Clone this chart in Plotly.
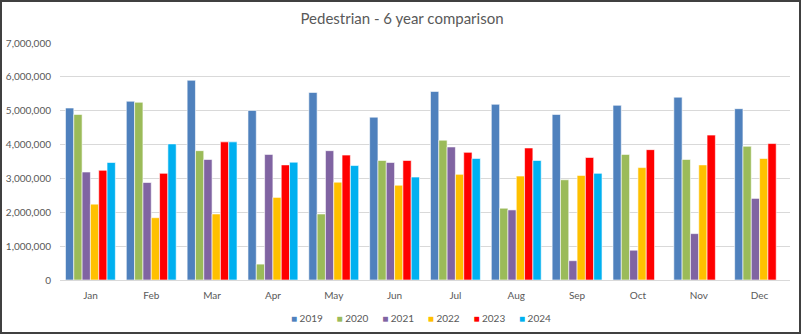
import plotly.graph_objects as go

months = ["Jan", "Feb", "Mar", "Apr", "May", "Jun", "Jul", "Aug", "Sep", "Oct", "Nov", "Dec"]
y2019 = [5.08, 5.28, 5.90, 5.01, 5.54, 4.81, 5.57, 5.19, 4.89, 5.16, 5.40, 5.06]
y2020 = [4.89, 5.25, 3.82, 0.47, 1.95, 3.53, 4.13, 2.12, 2.96, 3.71, 3.56, 3.95]
y2021 = [3.19, 2.88, 3.56, 3.71, 3.82, 3.47, 3.93, 2.07, 0.57, 0.88, 1.37, 2.41]
y2022 = [2.24, 1.84, 1.95, 2.44, 2.89, 2.80, 3.12, 3.07, 3.09, 3.32, 3.40, 3.59]
y2023 = [3.24, 3.15, 4.08, 3.40, 3.69, 3.53, 3.77, 3.90, 3.62, 3.85, 4.28, 4.03]
y2024 = [3.47, 4.02, 4.08, 3.48, 3.38, 3.04, 3.59, 3.53, 3.15, None, None, None]

series = [
    ("2019", y2019, "#4F81BD"),
    ("2020", y2020, "#9BBB59"),
    ("2021", y2021, "#8064A2"),
    ("2022", y2022, "#FFC000"),
    ("2023", y2023, "#FF0000"),
    ("2024", y2024, "#00B0F0"),
]

fig = go.Figure()
for name, vals, color in series:
    fig.add_trace(go.Bar(
        x=months,
        y=[v * 1e6 if v is not None else None for v in vals],
        name=name, showlegend=False, legendgroup=name,
        marker=dict(color=color, line=dict(color="white", width=0.6)),
    ))
# compact legend entries: coloured square glyph right next to the label
for name, vals, color in series:
    fig.add_trace(go.Scatter(
        x=[None], y=[None], mode="markers", legendgroup=name,
        name=f"<span style='color:{color}'>■</span> {name}",
        marker=dict(symbol="square", size=1, opacity=0, color="rgba(0,0,0,0)"),
    ))
# invisible spacer entry (keeps labels from being clipped)
fig.add_trace(go.Scatter(x=[None], y=[None], mode="markers", name=" ",
                         marker=dict(size=1, opacity=0, color="rgba(0,0,0,0)"),
                         hoverinfo="skip"))

L, R, T, B = 60, 14, 43, 55
W, H = 804, 335
pw = W - L - R
ph = H - T - B

fig.update_layout(
    width=W, height=H,
    margin=dict(l=L, r=R, t=T, b=B, autoexpand=False),
    paper_bgcolor="white", plot_bgcolor="white",
    font=dict(family="Lato, Open Sans, sans-serif", color="#595959", size=10),
    title=dict(text="Pedestrian - 6 year comparison", x=0.5, xanchor="center",
               y=1 - 19 / H, yanchor="middle",
               font=dict(size=15, color="#595959")),
    barmode="group", bargap=0.18, bargroupgap=0,
    showlegend=True,
    legend=dict(orientation="h", x=(251 - L) / pw, xanchor="left",
                y=-(318 - (H - B)) / ph, yanchor="middle",
                font=dict(size=10, color="#595959"),
                itemwidth=30, entrywidth=0.6, entrywidthmode="pixels",
                bgcolor="rgba(0,0,0,0)",
                tracegroupgap=0, traceorder="normal"),
    xaxis=dict(showgrid=False, showline=False, ticks="",
               ticklabelstandoff=8,
               tickfont=dict(size=10, color="#595959")),
    yaxis=dict(range=[0, 7e6], dtick=1e6, tickformat=",",
               showgrid=True, gridcolor="#D9D9D9", gridwidth=1,
               zeroline=True, zerolinecolor="#D9D9D9", zerolinewidth=1,
               showline=False, ticks="", ticklen=0, ticklabelstandoff=8,
               tickfont=dict(size=10, color="#595959")),
)

# chart-area border
fig.add_shape(type="rect", xref="paper", yref="paper",
              x0=(1 - L) / pw, x1=(800 - L) / pw,
              y0=-(333 - (H - B)) / ph, y1=(H - B - 1) / ph,
              line=dict(color="#404040", width=2), fillcolor="rgba(0,0,0,0)",
              layer="above")

fig.write_html("out.html")
